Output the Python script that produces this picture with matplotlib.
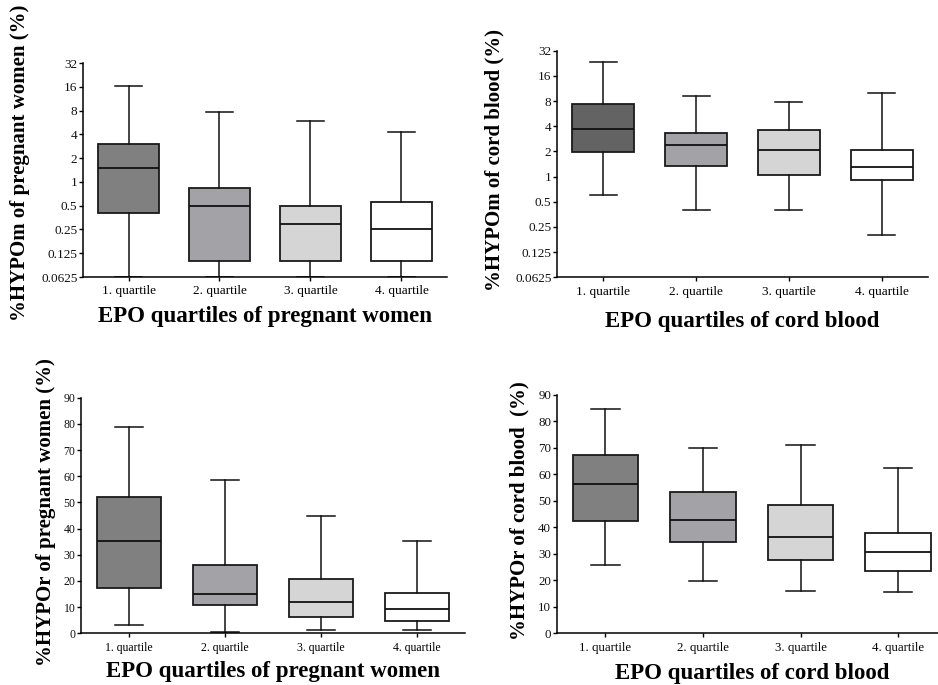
import numpy as np
import matplotlib
matplotlib.use("Agg")
import matplotlib.pyplot as plt

plt.rcParams['font.family'] = ['Liberation Serif', 'DejaVu Serif']

groups = ['1. quartile', '2. quartile', '3. quartile', '4. quartile']

# %HYPOm, pregnant women (log2 axis)
m_preg_lo = [0.0625, 0.0625, 0.0625, 0.0625]
m_preg_q1 = [0.40, 0.099, 0.099, 0.099]
m_preg_med = [1.48, 0.49, 0.297, 0.25]
m_preg_q3 = [2.99, 0.84, 0.49, 0.55]
m_preg_hi = [16.5, 7.6, 5.97, 4.34]

# %HYPOm, cord blood (log2 axis)
m_cord_lo = [0.60, 0.40, 0.40, 0.20]
m_cord_q1 = [1.96, 1.35, 1.05, 0.90]
m_cord_med = [3.7, 2.36, 2.1, 1.3]
m_cord_q3 = [7.3, 3.3, 3.6, 2.1]
m_cord_hi = [23.4, 9.1, 7.7, 9.9]

# %HYPOr, pregnant women
r_preg_lo = [3.2, 0.6, 1.1, 1.4]
r_preg_q1 = [17.4, 10.7, 6.1, 4.6]
r_preg_med = [35.4, 15.1, 12.0, 9.4]
r_preg_q3 = [51.9, 26.2, 20.7, 15.4]
r_preg_hi = [78.7, 58.4, 44.7, 35.3]

# %HYPOr, cord blood
r_cord_lo = [25.6, 19.6, 15.9, 15.5]
r_cord_q1 = [42.5, 34.4, 27.8, 23.5]
r_cord_med = [56.3, 42.9, 36.4, 30.8]
r_cord_q3 = [67.3, 53.5, 48.3, 37.8]
r_cord_hi = [84.5, 70.1, 70.9, 62.3]

log_ticks = [0.0625, 0.125, 0.25, 0.5, 1, 2, 4, 8, 16, 32]
log_ticklabels = ['0.0625', '0.125', '0.25', '0.5', '1', '2', '4', '8', '16', '32']
lin_ticks = [0, 10, 20, 30, 40, 50, 60, 70, 80, 90]

fills_a = ['#808080', '#a2a2a7', '#d5d5d5', '#ffffff']
fills_b = ['#636363', '#a2a2a7', '#d5d5d5', '#ffffff']


def draw(ax, lo, q1, med, q3, hi, fills, tick_fs):
    stats = []
    for i in range(len(groups)):
        stats.append(dict(whislo=lo[i], q1=q1[i], med=med[i], q3=q3[i],
                          whishi=hi[i], fliers=[], label=groups[i]))
    bp = ax.bxp(stats, positions=[1, 2, 3, 4], widths=0.67, patch_artist=True,
                showfliers=False,
                boxprops=dict(edgecolor='#1a1a1a', linewidth=1.3),
                medianprops=dict(color='#111111', linewidth=1.3),
                whiskerprops=dict(color='#111111', linewidth=1.1),
                capprops=dict(color='#111111', linewidth=1.1),
                capwidths=0.29)
    for patch, c in zip(bp['boxes'], fills):
        patch.set_facecolor(c)
    ax.set_xlim(0.5, 4.5)
    ax.spines['top'].set_visible(False)
    ax.spines['right'].set_visible(False)
    ax.spines['left'].set_linewidth(1.1)
    ax.spines['bottom'].set_linewidth(1.1)
    ax.tick_params(axis='both', direction='out', length=3, width=1, labelsize=tick_fs, pad=1)
    ax.tick_params(axis='x', labelsize=tick_fs, pad=3)
    for lbl in ax.get_yticklabels():
        lbl.set_color('#111111')


fig = plt.figure(figsize=(9.38, 6.85), dpi=100)

ax1 = fig.add_axes([0.0885, 0.5956, 0.388, 0.3124])
draw(ax1, m_preg_lo, m_preg_q1, m_preg_med, m_preg_q3, m_preg_hi, fills_a, 9.5)
ax1.set_yscale('log', base=2)
ax1.set_ylim(0.0625, 32)
ax1.set_yticks(log_ticks)
ax1.set_yticklabels(log_ticklabels)
ax1.minorticks_off()

ax2 = fig.add_axes([0.5938, 0.5952, 0.3955, 0.3308])
draw(ax2, m_cord_lo, m_cord_q1, m_cord_med, m_cord_q3, m_cord_hi, fills_b, 9.5)
ax2.set_yscale('log', base=2)
ax2.set_ylim(0.0625, 32)
ax2.set_yticks(log_ticks)
ax2.set_yticklabels(log_ticklabels)
ax2.minorticks_off()

ax3 = fig.add_axes([0.0864, 0.0755, 0.4094, 0.344])
draw(ax3, r_preg_lo, r_preg_q1, r_preg_med, r_preg_q3, r_preg_hi, fills_a, 8.5)
ax3.set_ylim(0, 90)
ax3.set_yticks(lin_ticks)

ax4 = fig.add_axes([0.5935, 0.0755, 0.416, 0.348])
draw(ax4, r_cord_lo, r_cord_q1, r_cord_med, r_cord_q3, r_cord_hi, fills_a, 9.3)
ax4.set_ylim(0, 90)
ax4.set_yticks(lin_ticks)

# axis titles
yfs = 15
xfs = 16.5
fig.text(0.0213, 0.762, '%HYPOm of pregnant women (%)', rotation=90, ha='center', va='center',
         fontsize=yfs, fontweight='bold')
fig.text(0.5277, 0.766, '%HYPOm of cord blood (%)', rotation=90, ha='center', va='center',
         fontsize=yfs, fontweight='bold')
fig.text(0.049, 0.2526, '%HYPOr of pregnant women (%)', rotation=90, ha='center', va='center',
         fontsize=yfs, fontweight='bold')
fig.text(0.554, 0.254, '%HYPOr of cord blood  (%)', rotation=90, ha='center', va='center',
         fontsize=yfs, fontweight='bold')

fig.text(0.2825, 0.5377, 'EPO quartiles of pregnant women', ha='center', va='center',
         fontsize=xfs, fontweight='bold')
fig.text(0.791, 0.5304, 'EPO quartiles of cord blood', ha='center', va='center',
         fontsize=xfs, fontweight='bold')
fig.text(0.291, 0.020, 'EPO quartiles of pregnant women', ha='center', va='center',
         fontsize=xfs, fontweight='bold')
fig.text(0.8017, 0.017, 'EPO quartiles of cord blood', ha='center', va='center',
         fontsize=xfs, fontweight='bold')

fig.savefig('out.png', dpi=100)
